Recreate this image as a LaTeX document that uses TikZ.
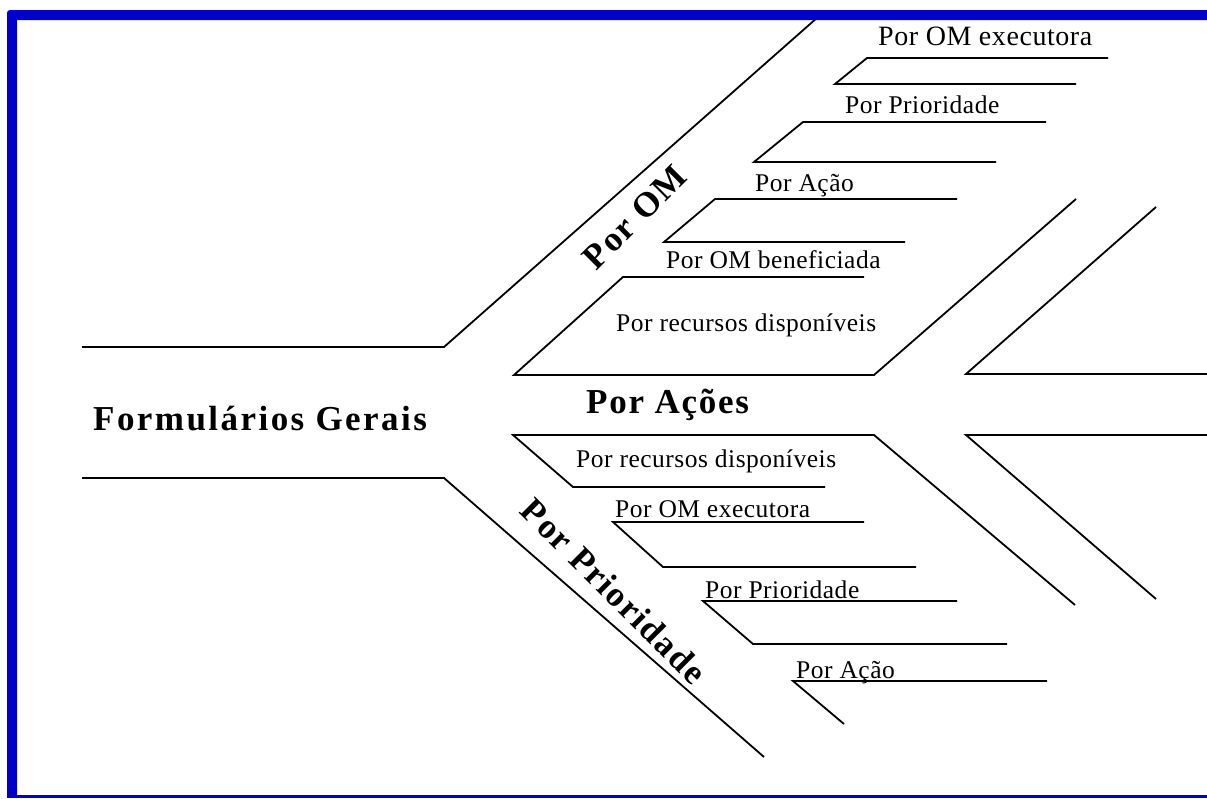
\documentclass[tikz,border=0pt]{standalone}
\usepackage{fontspec}
\setmainfont{Liberation Serif}
\newfontfamily\labelfont[LetterSpace=2]{Liberation Serif}
\newfontfamily\headfont[LetterSpace=5]{Liberation Serif}
\newfontfamily\titlefont[LetterSpace=7]{Liberation Serif}
\definecolor{frameblue}{RGB}{0,0,204}
\begin{document}
\begin{tikzpicture}[x=1pt,y=-1pt,
  branch/.style={draw=black,line width=1.8pt,line join=miter},
  lbl/.style={anchor=base west,inner sep=0pt,font=\labelfont\fontsize{25.5}{26}\selectfont},
  biglbl/.style={anchor=base west,inner sep=0pt,font=\labelfont\fontsize{28}{29}\selectfont},
  head/.style={inner sep=0pt,font=\headfont\bfseries\fontsize{35}{36}\selectfont},
  title/.style={inner sep=0pt,font=\titlefont\bfseries\fontsize{35}{36}\selectfont}]
\useasboundingbox (0,0) rectangle (1207,798);

% main spine: upper and lower arms
\coordinate (ua) at (82,347);  \coordinate (ub) at (444,347);  \coordinate (uc) at (818,17);
\coordinate (la) at (82,478);  \coordinate (lb) at (444,478);  \coordinate (lc) at (764,757);
\draw[branch] (ua) -- (ub) -- (uc);
\draw[branch] (la) -- (lb) -- (lc);

% upper ribs
\draw[branch] (1108,58) -- (867,58) -- (835,84) -- (1076,84);
\draw[branch] (1046,122) -- (803,122) -- (754,162) -- (996,162);
\draw[branch] (957,199) -- (715,199) -- (664,242) -- (905,242);
\draw[branch] (864,277) -- (623,277) -- (514,375) -- (874,375) -- (1076,199);
\draw[branch] (1156,207) -- (966,374) -- (1207,374);

% lower ribs
\draw[branch] (1207,435) -- (966,435) -- (1156,599);
\draw[branch] (1075,605) -- (874,435) -- (513,435) -- (573,487) -- (825,487);
\draw[branch] (864,522) -- (613,522) -- (663,567) -- (916,567);
\draw[branch] (957,601) -- (703,601) -- (753,644) -- (1007,644);
\draw[branch] (1047,681) -- (793,681) -- (844,724);

% headings
\node[title,anchor=base west] (fg) at (93,430) {Formulários Gerais};
\node[head,anchor=base west] (pa) at (586,413) {Por Ações};
\node[head,rotate=45] (pom) at (635,217) {Por OM};
\node[head,rotate=-45] (ppr) at (614,591) {Por Prioridade};

% labels
\node[biglbl] (t1) at (878,45) {Por OM executora};
\node[lbl] (t2) at (845,113) {Por Prioridade};
\node[lbl] (t3) at (755,191) {Por Ação};
\node[lbl] (t4) at (666,268) {Por OM beneficiada};
\node[lbl] (t5) at (616,331) {Por recursos disponíveis};
\node[lbl] (b1) at (576,467) {Por recursos disponíveis};
\node[lbl] (b2) at (615,517) {Por OM executora};
\node[lbl] (b3) at (705,598) {Por Prioridade};
\node[lbl] (b4) at (796,678) {Por Ação};

% frame
\fill[frameblue] (7,797) [rounded corners=3pt] -- (7,10) [sharp corners] -- (1207,10) -- (1207,20) -- (17,20) -- (17,797) -- cycle;
\fill[frameblue] (7,795) rectangle (1207,797.5);
\end{tikzpicture}
\end{document}
